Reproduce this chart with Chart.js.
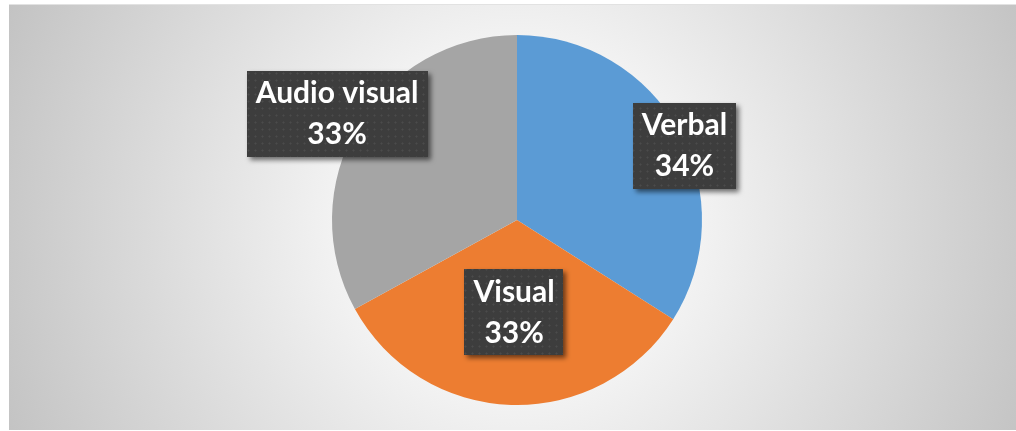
<!DOCTYPE html>
<html>
<head>
<meta charset="utf-8">
<script src="https://cdn.jsdelivr.net/npm/chart.js@4"></script>
<style>
  html, body { margin: 0; padding: 0; background: #fff; }
  #wrap { position: relative; width: 1016px; height: 431px; }
  #bg {
    position: absolute; left: 9px; top: 4px; width: 1007px; height: 425px;
    border-top: 1px solid #e2e2e2;
    background: radial-gradient(circle farthest-corner at 508px 216px, #ffffff 0%, #ffffff 15%, #c3c3c3 100%);
  }
  #chart { position: absolute; left: 0; top: 0; }
</style>
</head>
<body>
<div id="wrap">
  <div id="bg"></div>
  <canvas id="chart" width="1016" height="431"></canvas>
</div>
<script>
const categorias = ['Verbal', 'Visual', 'Audio visual'];
const valores = [34, 33, 33];
const etiquetas = ['34%', '33%', '33%'];
const colores = ['#5b9bd5', '#ed7d31', '#a5a5a5'];

// where each label box sits, relative to its slice
const radioEtiqueta = [0.99, 0.5, 1.13];
const ajusteEtiqueta = [[7, 14], [0, 0], [0, 0]];

function patronPuntos(ctx) {
    const c = document.createElement('canvas');
    c.width = 7; c.height = 7;
    const p = c.getContext('2d');
    p.fillStyle = '#3d3d3d';
    p.fillRect(0, 0, 7, 7);
    p.fillStyle = '#4b4b4b';
    p.fillRect(3, 3, 1, 1);
    p.fillStyle = '#454545';
    p.fillRect(2, 3, 1, 1); p.fillRect(4, 3, 1, 1);
    p.fillRect(3, 2, 1, 1); p.fillRect(3, 4, 1, 1);
    return ctx.createPattern(c, 'repeat');
}

const etiquetasPlugin = {
    id: 'etiquetas',
    afterDatasetsDraw(chart) {
        const ctx = chart.ctx;
        const meta = chart.getDatasetMeta(0);
        const fill = patronPuntos(ctx);
        ctx.save();
        ctx.font = 'bold 30px Lato';
        meta.data.forEach((arc, i) => {
            const p = arc.getProps(['x', 'y', 'startAngle', 'endAngle', 'outerRadius'], true);
            const mid = (p.startAngle + p.endAngle) / 2;
            const r = p.outerRadius * radioEtiqueta[i];
            const cx = p.x + Math.cos(mid) * r + ajusteEtiqueta[i][0];
            const cy = p.y + Math.sin(mid) * r + ajusteEtiqueta[i][1];
            const w = Math.max(ctx.measureText(categorias[i]).width, ctx.measureText(etiquetas[i]).width) + 18;
            const h = 86;
            ctx.save();
            ctx.shadowColor = 'rgba(0,0,0,0.55)';
            ctx.shadowBlur = 5;
            ctx.shadowOffsetX = 3;
            ctx.shadowOffsetY = 3;
            ctx.fillStyle = fill;
            ctx.fillRect(Math.round(cx - w / 2), Math.round(cy - h / 2), Math.round(w), h);
            ctx.restore();
            ctx.fillStyle = '#ffffff';
            ctx.textAlign = 'center';
            ctx.textBaseline = 'middle';
            ctx.fillText(categorias[i], cx, cy - 20);
            ctx.fillText(etiquetas[i], cx, cy + 21);
        });
        ctx.restore();
    }
};

const ctx = document.getElementById('chart').getContext('2d');
new Chart(ctx, {
    type: 'pie',
    data: {
        labels: categorias,
        datasets: [{
            data: valores,
            backgroundColor: colores,
            borderWidth: 0
        }]
    },
    options: {
        responsive: false,
        animation: false,
        layout: { padding: { left: 18, right: 0, top: 35, bottom: 26 } },
        plugins: {
            legend: { display: false },
            tooltip: { enabled: false }
        }
    },
    plugins: [etiquetasPlugin]
});
</script>
</body>
</html>
